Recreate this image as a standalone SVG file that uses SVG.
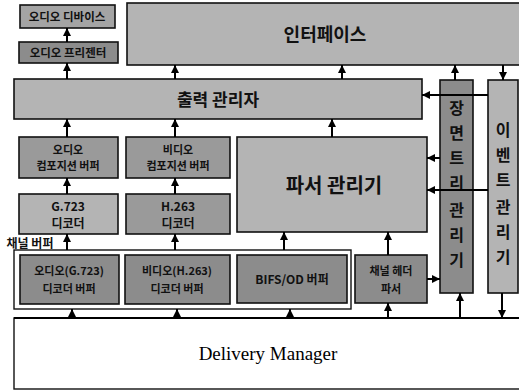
<svg xmlns="http://www.w3.org/2000/svg" width="519" height="390" viewBox="0 0 519 390">
<defs>
<marker id="ah" markerUnits="userSpaceOnUse" markerWidth="8" markerHeight="8" refX="8" refY="4" orient="auto">
<path d="M0,0 L8,4 L0,8 z" fill="#000"/>
</marker>
<style>
.box{stroke:#111;stroke-width:1.6}
.g1{fill:#a4a4a4}
.g2{fill:#b4b4b4}
.g3{fill:#8c8c8c}
.g4{fill:#9a9a9a}
.t{font-family:"Noto Sans CJK KR","Noto Sans",sans-serif;font-weight:bold;fill:#111;text-anchor:middle}
.v{font-size:16px}
.c line{stroke:#000;stroke-width:2;fill:none;marker-end:url(#ah)}
</style>
</defs>
<rect width="519" height="390" fill="#fff"/>
<g id="delivery-manager">
<rect x="14" y="318" width="515" height="71" fill="#fff" stroke="#111" stroke-width="1.4"/>
<line x1="14" y1="318" x2="519" y2="318" stroke="#000" stroke-width="2"/>
<text x="268" y="360" font-family="Liberation Serif,serif" font-size="19" text-anchor="middle" fill="#000">Delivery Manager</text>
</g>
<g id="channel-buffer">
<rect x="14" y="250" width="337" height="59" fill="#fff" stroke="#111" stroke-width="1.4"/>
<text x="30" y="248" class="t" font-size="12">채널 버퍼</text>
</g>
<g id="audio-device">
<rect class="box g1" x="20" y="5" width="95" height="23"/>
<text class="t" x="67" y="21" font-size="11.5">오디오 디바이스</text>
</g>
<g id="audio-presenter">
<rect class="box g3" x="19" y="42" width="99" height="21"/>
<text class="t" x="68" y="57" font-size="11.5">오디오 프리젠터</text>
</g>
<g id="interface">
<rect class="box g2" x="127" y="3" width="400" height="62"/>
<text class="t" x="325" y="41" font-size="18">인터페이스</text>
</g>
<g id="output-manager">
<rect class="box g2" x="14" y="79" width="408" height="40"/>
<text class="t" x="218" y="106" font-size="17">출력 관리자</text>
</g>
<g id="audio-composition-buffer">
<rect class="box g4" x="19" y="137" width="99" height="41"/>
<text class="t" x="68" y="154" font-size="11">오디오</text>
<text class="t" x="68" y="170" font-size="11">컴포지션 버퍼</text>
</g>
<g id="video-composition-buffer">
<rect class="box g4" x="126" y="137" width="104" height="41"/>
<text class="t" x="178" y="154" font-size="11">비디오</text>
<text class="t" x="178" y="170" font-size="11">컴포지션 버퍼</text>
</g>
<g id="audio-decoder">
<rect class="box g2" x="19" y="194" width="99" height="40"/>
<text class="t" x="68" y="211" font-size="12">G.723</text>
<text class="t" x="68" y="228" font-size="12">디코더</text>
</g>
<g id="video-decoder">
<rect class="box g4" x="126" y="194" width="104" height="40"/>
<text class="t" x="178" y="211" font-size="12">H.263</text>
<text class="t" x="178" y="228" font-size="12">디코더</text>
</g>
<g id="parser-manager">
<rect class="box g2" x="237" y="137" width="190" height="95"/>
<text class="t" x="334" y="193" font-size="20">파서 관리기</text>
</g>
<g id="audio-decoder-buffer">
<rect class="box g3" x="20" y="255" width="99" height="49"/>
<text class="t" x="69" y="275" font-size="11">오디오(G.723)</text>
<text class="t" x="69" y="293" font-size="11">디코더 버퍼</text>
</g>
<g id="video-decoder-buffer">
<rect class="box g3" x="125" y="255" width="105" height="49"/>
<text class="t" x="177" y="275" font-size="11">비디오(H.263)</text>
<text class="t" x="177" y="293" font-size="11">디코더 버퍼</text>
</g>
<g id="bifs-od-buffer">
<rect class="box g3" x="237" y="255" width="110" height="48"/>
<text class="t" x="292" y="284" font-size="12">BIFS/OD 버퍼</text>
</g>
<g id="channel-header-parser">
<rect class="box g3" x="355" y="255" width="72" height="48"/>
<text class="t" x="391" y="275" font-size="11">채널 헤더</text>
<text class="t" x="391" y="293" font-size="11">파서</text>
</g>
<g id="scene-tree-manager">
<rect class="box g3" x="440" y="80" width="33" height="213"/>
<text class="t v" x="456.5" y="114">장</text>
<text class="t v" x="456.5" y="139">면</text>
<text class="t v" x="456.5" y="164">트</text>
<text class="t v" x="456.5" y="189">리</text>
<text class="t v" x="456.5" y="216">관</text>
<text class="t v" x="456.5" y="241">리</text>
<text class="t v" x="456.5" y="266">기</text>
</g>
<g id="event-manager">
<rect class="box g2" x="488" y="80" width="30" height="213"/>
<text class="t v" x="503" y="136">이</text>
<text class="t v" x="503" y="161">벤</text>
<text class="t v" x="503" y="186">트</text>
<text class="t v" x="503" y="213">관</text>
<text class="t v" x="503" y="238">리</text>
<text class="t v" x="503" y="263">기</text>
</g>
<g id="connectors" class="c">
<line x1="67" y1="42" x2="67" y2="28"/>
<line x1="67" y1="79" x2="67" y2="63"/>
<line x1="175" y1="79" x2="175" y2="65"/>
<line x1="342" y1="79" x2="342" y2="65"/>
<line x1="455" y1="80" x2="455" y2="65"/>
<line x1="503" y1="65" x2="503" y2="80"/>
<line x1="488" y1="95" x2="422" y2="95"/>
<line x1="332" y1="137" x2="332" y2="119"/>
<line x1="67" y1="137" x2="67" y2="119"/>
<line x1="175" y1="137" x2="175" y2="119"/>
<line x1="67" y1="194" x2="67" y2="178"/>
<line x1="175" y1="194" x2="175" y2="178"/>
<line x1="67" y1="250" x2="67" y2="234"/>
<line x1="175" y1="250" x2="175" y2="234"/>
<line x1="440" y1="158" x2="427" y2="158"/>
<line x1="488" y1="190" x2="427" y2="190"/>
<line x1="284" y1="250" x2="284" y2="232"/>
<line x1="388" y1="255" x2="388" y2="232"/>
<line x1="427" y1="279" x2="440" y2="279"/>
<line x1="72" y1="318" x2="72" y2="309"/>
<line x1="177" y1="318" x2="177" y2="309"/>
<line x1="290" y1="318" x2="290" y2="309"/>
<line x1="388" y1="318" x2="388" y2="303"/>
<line x1="460" y1="318" x2="460" y2="293"/>
<line x1="502" y1="293" x2="502" y2="318"/>
</g>
</svg>
